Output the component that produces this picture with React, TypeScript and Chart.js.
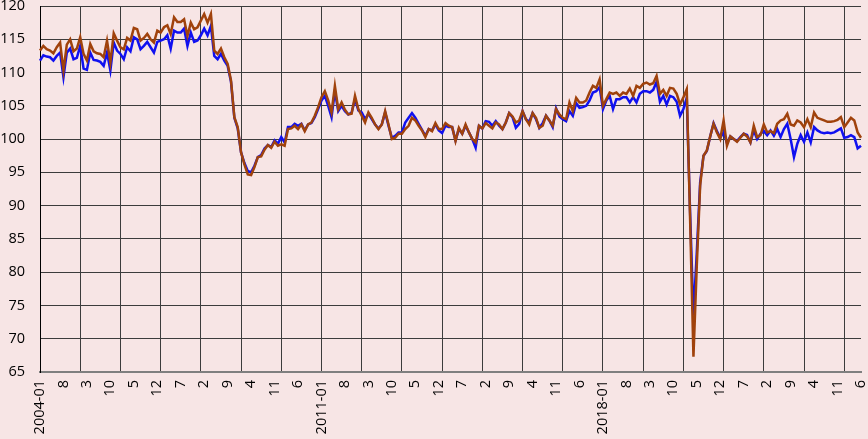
import React, { useEffect, useRef } from "react";
import { Chart, registerables } from "chart.js";

Chart.register(...registerables);

const START_YEAR = 2004;
const MONTH_COUNT = 246; // 2004-01 .. 2024-06

const TICK_LABELS = [
  "2004-01", "8", "3", "10", "5", "12", "7", "2", "9", "4", "11", "6",
  "2011-01", "8", "3", "10", "5", "12", "7", "2", "9", "4", "11", "6",
  "2018-01", "8", "3", "10", "5", "12", "7", "2", "9", "4", "11", "6",
];

const SERIES_BROWN = [
  113.3, 114.0, 113.5, 113.3, 112.9, 113.8, 114.5, 110.3, 114.2, 115.0, 113.2, 113.6,
  115.3, 112.8, 111.8, 114.3, 113.2, 112.9, 112.8, 112.3, 114.8, 111.5, 115.9, 114.8,
  113.8, 113.5, 115.2, 114.8, 116.7, 116.5, 114.8, 115.2, 115.8, 115.0, 114.5, 116.3,
  116.0, 116.8, 117.1, 115.8, 118.3, 117.6, 117.6, 118.0, 115.5, 117.5, 116.5, 116.8,
  117.8, 118.8, 117.5, 118.8, 113.3, 112.8, 113.6, 112.3, 111.3, 108.8, 103.3, 101.8,
  98.0, 96.2, 94.7, 94.6, 95.8, 97.3, 97.4, 98.4, 99.1, 98.7, 99.6, 99.0,
  99.2, 99.0, 101.5, 101.6, 102.0, 101.5, 102.2, 101.2, 102.2, 102.5, 103.5, 104.8,
  106.3, 107.2, 105.8, 104.0, 108.0, 104.5, 105.5, 104.4, 103.7, 103.8, 106.5, 104.5,
  103.5, 102.5, 104.0, 103.2, 102.2, 101.5, 102.2, 104.2, 102.2, 100.0, 100.2, 100.8,
  100.8, 101.5, 102.0, 103.2, 102.8, 102.0, 101.3, 100.3, 101.5, 101.2, 102.4, 101.5,
  101.5, 102.4, 102.0, 101.8, 99.7, 101.7, 100.8, 102.2, 101.0, 100.0, 99.5, 102.0,
  101.6, 102.4, 102.0, 101.6, 102.5, 102.2, 101.5, 102.5, 103.9, 103.4, 102.5, 102.8,
  104.2, 103.0, 102.2, 103.9, 103.2, 101.7, 102.0, 103.5, 102.8, 102.0, 104.5, 103.7,
  103.2, 103.0, 105.5, 104.2, 106.2, 105.5, 105.5, 105.8, 107.0, 108.0, 107.7, 109.0,
  105.0, 106.0, 107.0, 106.8, 107.0, 106.5, 107.0, 106.8, 107.6, 106.5, 108.0, 107.7,
  108.3, 108.5, 108.2, 108.4, 109.5, 106.8, 107.4, 106.5, 107.7, 107.6, 106.8, 105.2,
  106.3, 107.5, 88.0, 67.3, 81.0, 93.0, 97.5, 98.3, 100.4, 102.3, 101.0, 100.0,
  102.8, 99.0, 100.4, 100.0, 99.6, 100.2, 100.8, 100.4, 99.5, 102.0, 100.3, 100.6,
  102.2, 101.0, 101.2, 100.9, 102.3, 102.8, 103.0, 103.8, 102.2, 102.0, 102.8, 102.5,
  101.8, 103.0, 101.8, 104.0, 103.2, 103.0, 102.8, 102.6, 102.6, 102.7, 102.9, 103.3,
  101.8, 102.5, 103.2, 102.8, 101.0, 100.2,
];

const SERIES_BLUE = [
  111.8, 112.6, 112.4, 112.3, 111.8, 112.5, 113.0, 109.3, 113.0, 113.6, 112.0, 112.2,
  114.0, 110.6, 110.4, 113.0, 111.9, 111.8, 111.6, 111.0, 113.0, 110.3, 114.5, 113.3,
  112.8, 112.0, 113.8, 113.2, 115.3, 115.0, 113.5, 114.0, 114.6, 113.8, 113.0, 114.6,
  114.8, 115.0, 115.6, 113.6, 116.3, 116.0, 116.0, 116.6, 114.0, 116.0, 114.6, 114.8,
  115.6, 116.6, 115.6, 117.0, 112.5, 112.0, 112.8, 111.8, 111.0, 108.6, 103.2, 101.6,
  98.0, 96.4, 95.2, 95.0, 96.0, 97.3, 97.6, 98.6, 99.1, 98.8, 99.8, 99.3,
  100.3, 99.5, 101.8, 101.8, 102.3, 102.0, 102.3, 101.3, 102.2, 102.4, 103.3, 104.5,
  105.8, 106.5, 105.0, 103.3, 107.2, 104.2, 105.0, 104.2, 103.7, 104.0, 106.0, 104.3,
  104.0, 103.0, 103.8, 103.0, 102.2, 101.6, 102.2, 104.0, 102.0, 100.2, 100.5, 101.0,
  101.0, 102.5, 103.2, 103.9, 103.2, 102.3, 101.4, 100.5, 101.5, 101.3, 102.2, 101.3,
  100.9, 102.0, 101.8, 101.8, 99.8, 101.5, 100.8, 102.0, 101.0, 100.0, 98.7, 102.0,
  101.6, 102.7, 102.6, 102.0, 102.7, 102.0, 101.5, 102.5, 103.9, 103.3, 101.7, 102.3,
  104.2, 103.0, 102.6, 103.9, 103.0, 101.7, 102.4, 103.5, 102.8, 101.8, 104.6, 103.4,
  103.0, 102.7, 104.2, 103.5, 105.4, 104.7, 104.8, 105.0, 105.8, 107.0, 107.2, 107.8,
  104.5, 105.8, 106.5, 104.5, 106.0, 106.0, 106.3, 106.3, 105.5, 106.3, 105.5, 106.8,
  107.2, 107.2, 107.0, 107.4, 108.6, 105.6, 106.5, 105.2, 106.5, 106.3, 105.6, 103.5,
  104.5, 106.2, 89.0, 73.5, 83.0, 93.5, 97.5, 98.2, 100.4, 102.4, 101.2, 100.2,
  101.0, 99.4, 100.4, 100.0, 99.7, 100.3, 100.8, 100.6, 99.5, 101.3, 100.0, 100.8,
  101.2, 100.6, 101.3, 100.5, 101.5, 100.3, 101.5, 102.3, 100.0, 97.3, 99.3, 100.6,
  99.6, 101.0, 99.5, 101.8, 101.3, 101.0, 100.9, 101.0, 100.9, 101.0, 101.3, 101.6,
  100.2, 100.3, 100.6, 100.3, 98.6, 99.0,
];

const CATEGORIES: string[] = [];
for (let i = 0; i < MONTH_COUNT; i++) {
  const y = START_YEAR + Math.floor(i / 12);
  const m = (i % 12) + 1;
  CATEGORIES.push(`${y}-${m < 10 ? "0" + m : m}`);
}

const BG = "#F7E5E5";
const GRID = "#3C3C3C";
const FONT = "'Open Sans', 'Liberation Sans', sans-serif";

export default function App() {
  const ref = useRef<HTMLCanvasElement | null>(null);

  useEffect(() => {
    document.body.style.margin = "0";
    document.body.style.background = BG;
    if (!ref.current) return;
    const chart = new Chart(ref.current, {
      type: "line",
      data: {
        labels: CATEGORIES,
        datasets: [
          {
            label: "brown",
            data: SERIES_BROWN,
            borderColor: "#A0420C",
            borderWidth: 2.5,
            pointRadius: 0,
            tension: 0,
            fill: false,
          },
          {
            label: "blue",
            data: SERIES_BLUE,
            borderColor: "#1010F0",
            borderWidth: 2.5,
            pointRadius: 0,
            tension: 0,
            fill: false,
          },
        ],
      },
      options: {
        animation: false,
        responsive: false,
        maintainAspectRatio: false,
        layout: { padding: { top: 6, right: 7, left: 0, bottom: 0 } },
        plugins: {
          legend: { display: false },
          tooltip: { enabled: false },
        },
        scales: {
          x: {
            type: "category",
            offset: false,
            grid: {
              color: (c: any) => (c.index % 12 === 0 ? GRID : "rgba(0,0,0,0)"),
              lineWidth: 1,
              drawTicks: false,
            },
            border: { color: "#7F7F7F", width: 2 },
            ticks: {
              autoSkip: false,
              maxRotation: 90,
              minRotation: 90,
              padding: 8,
              color: "#000",
              font: { family: FONT, size: 14.5, lineHeight: 1 },
              callback: (_v: any, i: number) => (i % 7 === 0 ? TICK_LABELS[i / 7] : ""),
            },
            afterFit: (s: any) => {
              s.height = 67;
              s.paddingLeft = 0;
              s.paddingRight = 0;
              s.paddingTop = 0;
              s.paddingBottom = 0;
            },
          },
          y: {
            min: 65,
            max: 120,
            grid: { color: GRID, lineWidth: 1, drawTicks: false },
            border: { color: "#000", width: 1 },
            ticks: {
              stepSize: 5,
              padding: 15,
              color: "#000",
              font: { family: FONT, size: 14.5, lineHeight: 1 },
            },
            afterFit: (s: any) => {
              s.width = 40;
              s.paddingLeft = 0;
              s.paddingRight = 0;
              s.paddingTop = 0;
              s.paddingBottom = 0;
            },
          },
        },
      },
    });
    return () => chart.destroy();
  }, []);

  return (
    <div style={{ position: "absolute", left: 0, top: 0, width: 868, height: 439, background: BG }}>
      <canvas ref={ref} width={868} height={439} style={{ display: "block" }} />
    </div>
  );
}
